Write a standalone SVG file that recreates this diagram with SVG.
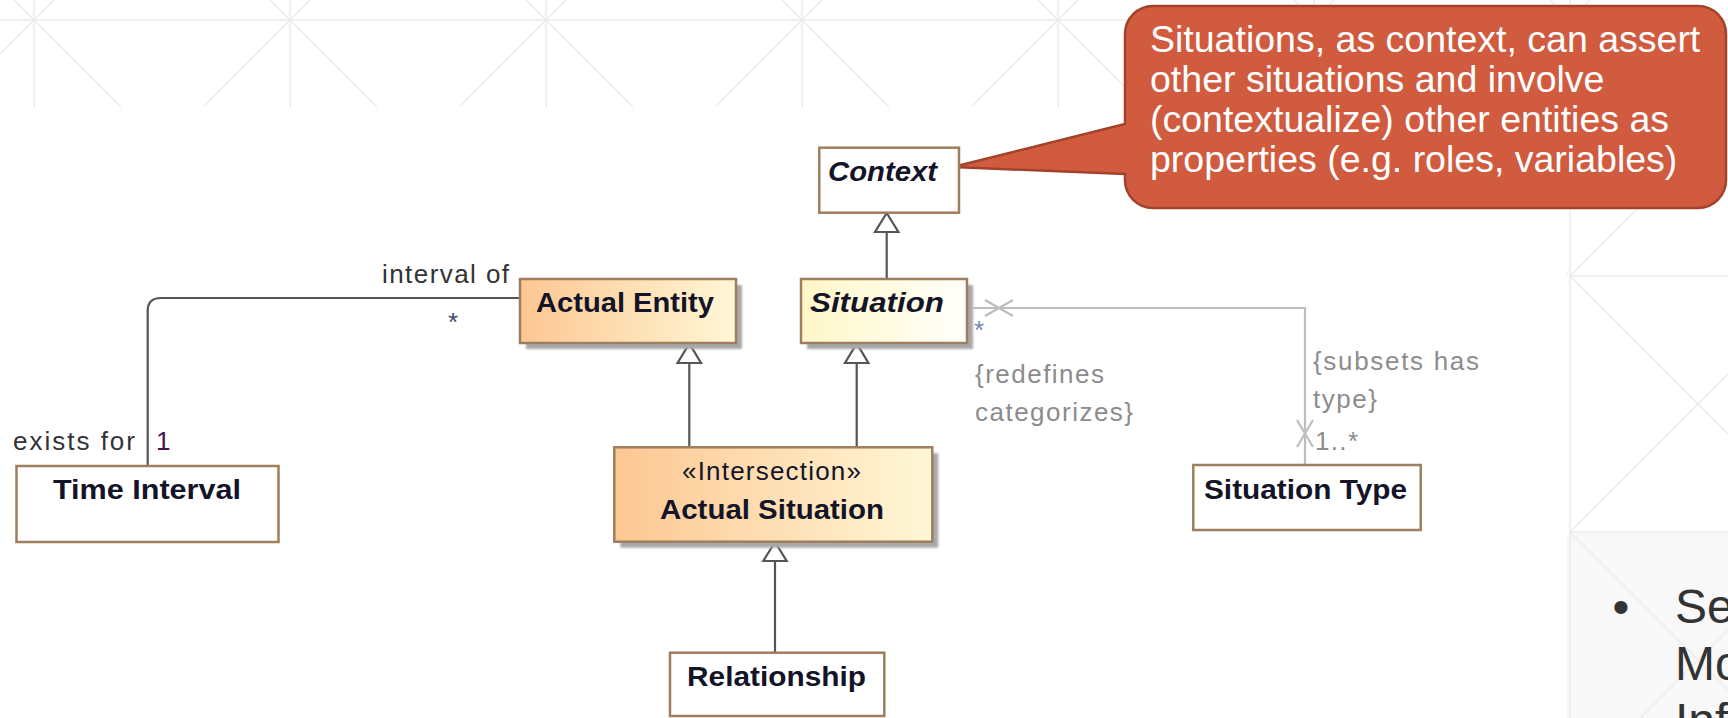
<svg xmlns="http://www.w3.org/2000/svg" width="1728" height="718" viewBox="0 0 1728 718">
<defs>
<linearGradient id="gOrange" x1="0" y1="0" x2="1" y2="0">
<stop offset="0" stop-color="#FDC792"/>
<stop offset="1" stop-color="#FFF7D6"/>
</linearGradient>
<linearGradient id="gYellow" x1="0" y1="0" x2="1" y2="0">
<stop offset="0" stop-color="#FFF7C8"/>
<stop offset="1" stop-color="#FFFFFA"/>
</linearGradient>
<filter id="blur" x="-10%" y="-10%" width="120%" height="130%"><feGaussianBlur stdDeviation="1.2"/></filter>
<clipPath id="panelClip"><rect x="1567" y="208" width="161" height="510"/></clipPath>
<clipPath id="topClip"><rect x="0" y="0" width="1728" height="107"/></clipPath>
</defs>
<style>
.bg{stroke:#ececec;stroke-width:1.5;fill:none}
.box{stroke:#9E7E5E;stroke-width:2.5}
.shadow{fill:#a8a8a8;filter:url(#blur)}
.name{font-family:"Liberation Sans",Arial,sans-serif;font-weight:bold;font-size:28px;fill:#141428}
.ital{font-style:italic}
.lbl{font-family:"Liberation Sans",Arial,sans-serif;font-size:26px;fill:#333}
.glbl{font-family:"Liberation Sans",Arial,sans-serif;font-size:26px;fill:#8c8c8c}
.ln{stroke:#555;stroke-width:2.2;fill:none}
.gln{stroke:#bdbdbd;stroke-width:2.2;fill:none}
.tri{stroke:#555;stroke-width:2.2;fill:#fff}
.call{font-family:"Liberation Sans",Arial,sans-serif;font-size:37.5px;fill:#fff}
.slide{font-family:"Liberation Sans",Arial,sans-serif;font-size:48px;fill:#333}
</style>

<g id="background">
<rect x="0" y="0" width="1728" height="718" fill="#fff"/>
<g clip-path="url(#topClip)">
<path class="bg" d="M0 20 H1728
M-222 0 V107 M34 0 V107 M290 0 V107 M546 0 V107 M802 0 V107 M1058 0 V107 M1314 0 V107 M1570 0 V107
M-242 0 L-135 107 M-202 0 L-309 107
M14 0 L121 107 M54 0 L-53 107
M270 0 L377 107 M310 0 L203 107
M526 0 L633 107 M566 0 L459 107
M782 0 L889 107 M822 0 L715 107
M1038 0 L1145 107 M1078 0 L971 107
M1294 0 L1401 107 M1334 0 L1227 107
M1550 0 L1657 107 M1590 0 L1483 107
M1846 0 L1739 107"/>
</g>
<g clip-path="url(#panelClip)">
<rect x="1567" y="533" width="161" height="185" fill="#f8f8f8"/>
<path class="bg" d="M1570 208 V718 M1570 276 H1728 M1570 532 H1728
M1502 208 L1826 532 M1570 276 L1638 208
M1570 532 L1826 276 M1570 532 L1756 718
M1826 532 L1640 718"/>
</g>
</g>

<g id="callout">
<path d="M1153 6 H1698 A28 28 0 0 1 1726 34 V180 A28 28 0 0 1 1698 208 H1153 A28 28 0 0 1 1125 180 V174 L953 167 L1125 124 V34 A28 28 0 0 1 1153 6 Z" fill="#D05B3F" stroke="#A4412B" stroke-width="2.5"/>
<text class="call" x="1150" y="52">Situations, as context, can assert</text>
<text class="call" x="1150" y="92">other situations and involve</text>
<text class="call" x="1150" y="132">(contextualize) other entities as</text>
<text class="call" x="1150" y="172">properties (e.g. roles, variables)</text>
</g>

<g id="slide-text">
<text class="slide" x="1621" y="623" text-anchor="middle">•</text>
<text class="slide" x="1675" y="623">Se</text>
<text class="slide" x="1675" y="680">Mo</text>
<text class="slide" x="1675" y="737">Inf</text>
</g>

<g id="connectors">
<path class="ln" d="M147.7 466 V311 Q147.7 298 160.7 298 H520"/>
<path class="ln" d="M886.7 279 V232"/>
<path class="tri" d="M886.7 213 L875 232 L898.4 232 Z"/>
<path class="ln" d="M689.3 447 V363"/>
<path class="tri" d="M689.3 343.5 L677.6 363 L701 363 Z"/>
<path class="ln" d="M856.7 447 V363"/>
<path class="tri" d="M856.7 343.5 L845 363 L868.4 363 Z"/>
<path class="ln" d="M775 653 V561"/>
<path class="tri" d="M775 542 L763.3 561 L786.7 561 Z"/>
<path class="gln" d="M973 308 H1305 V465"/>
<path class="gln" d="M985 300 L1013 316 M985 316 L1013 300"/>
<path class="gln" d="M1297 420 L1313 447 M1313 420 L1297 447"/>
</g>

<g id="labels">
<text class="lbl" x="382" y="283" textLength="127" lengthAdjust="spacing">interval of</text>
<text class="lbl" x="448" y="331" style="fill:#3a4a6a">*</text>
<text class="lbl" x="13" y="450" textLength="122" lengthAdjust="spacing">exists for</text>
<text class="lbl" x="156" y="450" style="fill:#4a1050">1</text>
<text class="glbl" x="974" y="339" style="fill:#7088b0">*</text>
<text class="glbl" x="975" y="383" textLength="129" lengthAdjust="spacing">{redefines</text>
<text class="glbl" x="975" y="421" textLength="158" lengthAdjust="spacing">categorizes}</text>
<text class="glbl" x="1313" y="370" textLength="166" lengthAdjust="spacing">{subsets has</text>
<text class="glbl" x="1313" y="408" textLength="64" lengthAdjust="spacing">type}</text>
<text class="glbl" x="1315" y="450" textLength="43" lengthAdjust="spacing">1..*</text>
</g>

<g id="node-context">
<rect class="box" x="819.3" y="147.7" width="139.7" height="65" fill="#fff"/>
<text class="name ital" x="828" y="181" textLength="109" lengthAdjust="spacingAndGlyphs">Context</text>
</g>

<g id="node-actual-entity">
<rect class="shadow" x="526" y="285" width="216" height="64"/>
<rect class="box" x="520" y="279" width="216" height="64" fill="url(#gOrange)"/>
<text class="name" x="536" y="312" textLength="178" lengthAdjust="spacingAndGlyphs">Actual Entity</text>
</g>

<g id="node-situation">
<rect class="shadow" x="807" y="285" width="166" height="64"/>
<rect class="box" x="801" y="279" width="166" height="64" fill="url(#gYellow)"/>
<text class="name ital" x="810" y="312" textLength="134" lengthAdjust="spacingAndGlyphs">Situation</text>
</g>

<g id="node-actual-situation">
<rect class="shadow" x="620.3" y="453.3" width="318" height="94.4"/>
<rect class="box" x="614.3" y="447.3" width="318" height="94.4" fill="url(#gOrange)"/>
<text class="lbl" x="682" y="480" textLength="179" lengthAdjust="spacing" style="fill:#141428">«Intersection»</text>
<text class="name" x="660" y="519" textLength="224" lengthAdjust="spacingAndGlyphs">Actual Situation</text>
</g>

<g id="node-relationship">
<rect class="box" x="670" y="652.7" width="214.3" height="63.3" fill="#fff"/>
<text class="name" x="687" y="686" textLength="179" lengthAdjust="spacingAndGlyphs">Relationship</text>
</g>

<g id="node-time-interval">
<rect class="box" x="16.5" y="466" width="262" height="76" fill="#fff"/>
<text class="name" x="53" y="499" textLength="188" lengthAdjust="spacingAndGlyphs">Time Interval</text>
</g>

<g id="node-situation-type">
<rect class="box" x="1193.3" y="465" width="227.4" height="65" fill="#fff"/>
<text class="name" x="1204" y="499" textLength="203" lengthAdjust="spacingAndGlyphs">Situation Type</text>
</g>
</svg>
